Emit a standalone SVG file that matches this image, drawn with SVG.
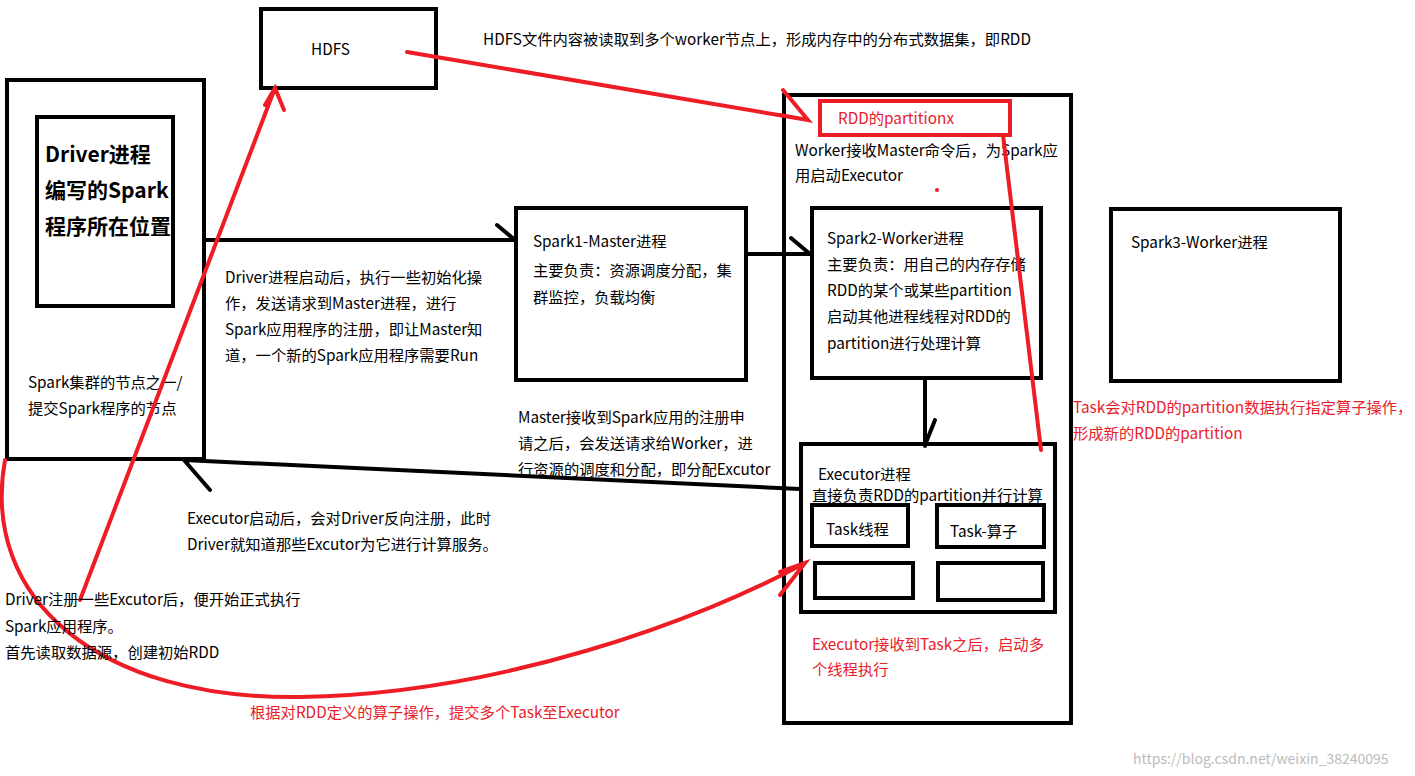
<svg xmlns="http://www.w3.org/2000/svg" width="1415" height="776" viewBox="0 0 1415 776">
<style>
text{font-family:"Noto Sans CJK SC","Liberation Sans",sans-serif;font-size:15.3px;fill:#000}
.r{fill:#e8202a}
.b{fill:none;stroke:#000;stroke-width:4}
.k{fill:none;stroke:#000;stroke-width:4;stroke-linecap:round}
.rl{fill:none;stroke:#ee1c25;stroke-width:4;stroke-linecap:round}
.big{font-size:21px;font-weight:bold}
</style>
<rect width="1415" height="776" fill="#fff"/>
<g id="hdfs"><rect class="b" x="261" y="9" width="175" height="79"/><text x="311" y="55">HDFS</text></g>
<g id="driverNode"><rect class="b" x="7" y="80" width="197" height="379"/>
<text x="28" y="388">Spark集群的节点之一/</text><text x="28" y="414">提交Spark程序的节点</text></g>
<g id="driver"><rect class="b" x="37" y="117" width="136" height="189"/>
<text class="big" x="45" y="162">Driver进程</text><text class="big" x="45" y="198">编写的Spark</text><text class="big" x="45" y="234">程序所在位置</text></g>
<g id="master"><rect class="b" x="516" y="208" width="230" height="172"/>
<text x="533" y="247">Spark1-Master进程</text><text x="533" y="276">主要负责：资源调度分配，集</text><text x="533" y="303">群监控，负载均衡</text></g>
<g id="workerNode"><rect class="b" x="784" y="95" width="287" height="628"/>
<text x="795" y="156">Worker接收Master命令后，为Spark应</text><text x="795" y="181">用启动Executor</text>
<circle cx="937" cy="190" r="2" fill="#ee1c25"/></g>
<g id="rddx"><rect x="820" y="101" width="190" height="34" fill="none" stroke="#ee1c25" stroke-width="4"/><text class="r" x="838" y="124">RDD的partitionx</text></g>
<g id="worker2"><rect class="b" x="812" y="208" width="229" height="170"/>
<text x="827" y="244">Spark2-Worker进程</text><text x="827" y="270">主要负责：用自己的内存存储</text><text x="827" y="296">RDD的某个或某些partition</text><text x="827" y="322">启动其他进程线程对RDD的</text><text x="827" y="349">partition进行处理计算</text></g>
<g id="worker3"><rect class="b" x="1111" y="209" width="229" height="172"/><text x="1131" y="248">Spark3-Worker进程</text></g>
<g id="executor"><rect class="b" x="801" y="444" width="254" height="168"/>
<text x="818" y="480">Executor进程</text><text x="812" y="501">直接负责RDD的partition并行计算</text></g>
<g id="task1"><rect class="b" x="812" y="505" width="96" height="41"/><text x="826" y="535">Task线程</text></g>
<g id="task2"><rect class="b" x="937" y="505" width="107" height="42"/><text x="950" y="537">Task-算子</text></g>
<g id="task3"><rect class="b" x="815" y="563" width="98" height="35"/></g>
<g id="task4"><rect class="b" x="938" y="563" width="105" height="37"/></g>
<g id="connectors">
<path class="k" d="M204,240H515M497,225L515,240"/>
<path class="k" d="M746,254H811M791,238L810,254"/>
<path class="k" d="M925,378V446M935,420L925,445"/>
<path class="k" d="M800,489L184,460L210,490"/>
<path class="rl" d="M407,52L808,120M783,90L808,120L780,115"/>
<path class="rl" d="M1041,450L1003,135"/>
<path class="rl" d="M80,600L275,88M265,105L275,88L284,110"/>
<path class="rl" d="M5,460C-20,600 100,700 300,697C500,694 700,620 805,563M780,595L805,563L780,572"/>
</g>
<text x="483" y="45">HDFS文件内容被读取到多个worker节点上，形成内存中的分布式数据集，即RDD</text>
<text x="225" y="283">Driver进程启动后，执行一些初始化操</text><text x="225" y="309">作，发送请求到Master进程，进行</text><text x="225" y="335">Spark应用程序的注册，即让Master知</text><text x="225" y="361">道，一个新的Spark应用程序需要Run</text>
<text x="518" y="423">Master接收到Spark应用的注册申</text><text x="518" y="449">请之后，会发送请求给Worker，进</text><text x="518" y="475">行资源的调度和分配，即分配Excutor</text>
<text x="187" y="524">Executor启动后，会对Driver反向注册，此时</text><text x="187" y="550">Driver就知道那些Excutor为它进行计算服务。</text>
<text x="5" y="605">Driver注册一些Excutor后，便开始正式执行</text><text x="5" y="632">Spark应用程序。</text><text x="5" y="658">首先读取数据源，创建初始RDD</text>
<text class="r" x="1073" y="413">Task会对RDD的partition数据执行指定算子操作，</text><text class="r" x="1073" y="439">形成新的RDD的partition</text>
<text class="r" x="812" y="650">Executor接收到Task之后，启动多</text><text class="r" x="812" y="675">个线程执行</text>
<text class="r" x="250" y="718">根据对RDD定义的算子操作，提交多个Task至Executor</text>
<text x="1133" y="764" style="fill:#bbb;font-size:14px">https://blog.csdn.net/weixin_38240095</text>
</svg>
